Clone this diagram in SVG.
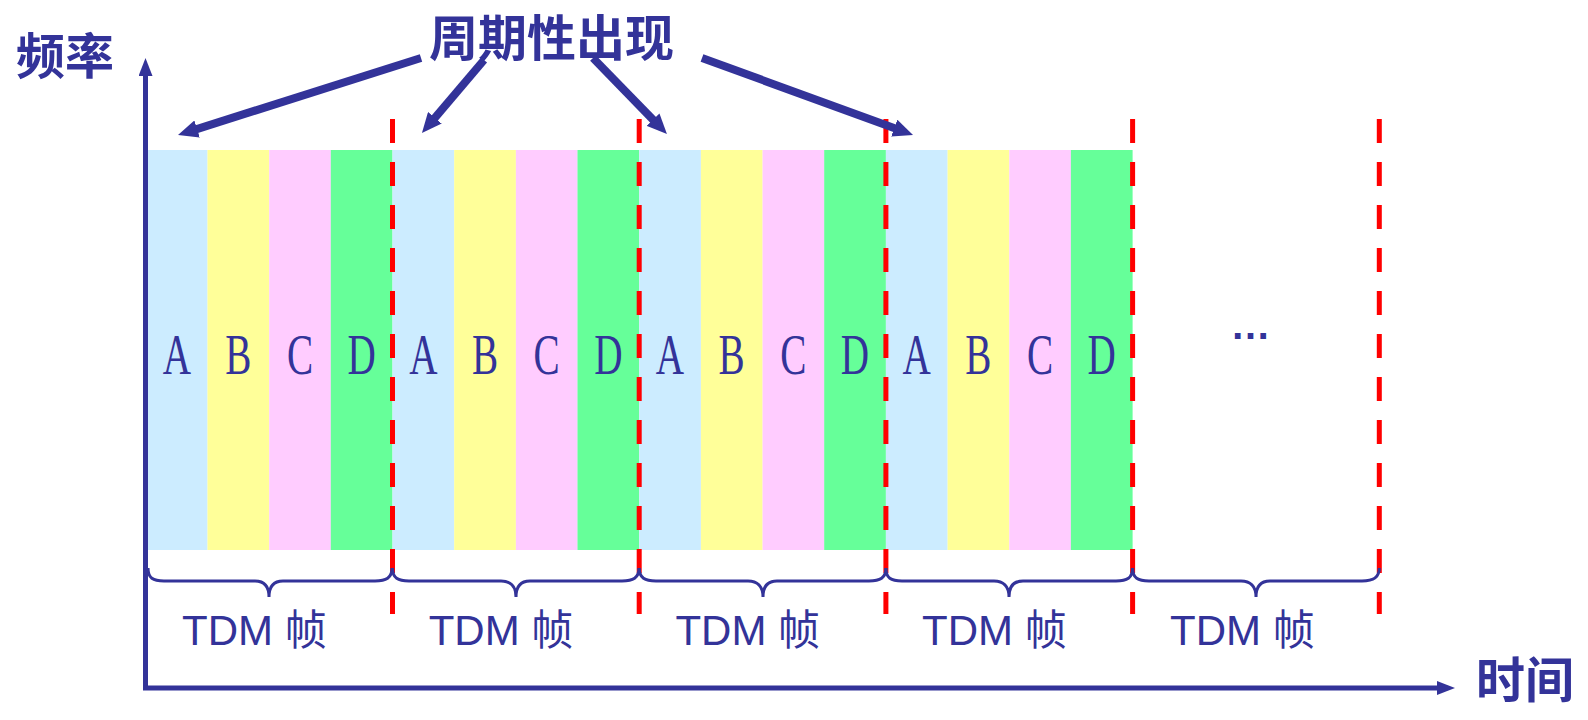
<svg xmlns="http://www.w3.org/2000/svg" width="1588" height="720" viewBox="0 0 1588 720">
<style>
.a{fill:#CCECFF}.b{fill:#FFFF99}.c{fill:#FFCCFF}.d{fill:#66FF99}
.ltr{font-family:"Liberation Serif",serif;font-size:56px;fill:#333399;text-anchor:middle}
.cjk{font-family:"Noto Sans CJK SC",sans-serif;font-size:49px;font-weight:bold;fill:#333399}
.tdm{font-family:"Liberation Sans","Noto Sans CJK SC",sans-serif;font-size:42px;fill:#333399}
.red{stroke:#FF0000;stroke-width:5;stroke-dasharray:24 19;fill:none}
.brace{stroke:#333399;stroke-width:3;fill:none}
.axis{stroke:#333399;stroke-width:5;fill:none}
.arr{stroke:#333399;stroke-width:8;fill:none}
</style>
<defs>
<marker id="bigHead" markerUnits="userSpaceOnUse" viewBox="0 0 20 18" markerWidth="20" markerHeight="18" refX="2" refY="9" orient="auto"><path d="M0,0 L20,9 L0,18 z" fill="#333399"/></marker>
<marker id="axHead" markerUnits="userSpaceOnUse" viewBox="0 0 18 14" markerWidth="18" markerHeight="14" refX="2" refY="7" orient="auto"><path d="M0,0 L18,7 L0,14 z" fill="#333399"/></marker>
</defs>
<g id="band">
<rect class="a" x="145.8" y="150" width="61.7" height="400"/><rect class="b" x="207.5" y="150" width="61.7" height="400"/><rect class="c" x="269.2" y="150" width="61.7" height="400"/><rect class="d" x="330.8" y="150" width="61.7" height="400"/>
<rect class="a" x="392.5" y="150" width="61.7" height="400"/><rect class="b" x="454.2" y="150" width="61.7" height="400"/><rect class="c" x="515.9" y="150" width="61.7" height="400"/><rect class="d" x="577.5" y="150" width="61.7" height="400"/>
<rect class="a" x="639.2" y="150" width="61.7" height="400"/><rect class="b" x="700.9" y="150" width="61.7" height="400"/><rect class="c" x="762.6" y="150" width="61.7" height="400"/><rect class="d" x="824.2" y="150" width="61.7" height="400"/>
<rect class="a" x="885.9" y="150" width="61.7" height="400"/><rect class="b" x="947.6" y="150" width="61.7" height="400"/><rect class="c" x="1009.3" y="150" width="61.7" height="400"/><rect class="d" x="1070.9" y="150" width="61.7" height="400"/>
</g>
<g id="slot-labels">
<text class="ltr" transform="translate(177 374) scale(0.7 1)">A</text><text class="ltr" transform="translate(238.4 374) scale(0.7 1)">B</text><text class="ltr" transform="translate(300 374) scale(0.7 1)">C</text><text class="ltr" transform="translate(361.7 374) scale(0.7 1)">D</text>
<text class="ltr" transform="translate(423.4 374) scale(0.7 1)">A</text><text class="ltr" transform="translate(485 374) scale(0.7 1)">B</text><text class="ltr" transform="translate(546.7 374) scale(0.7 1)">C</text><text class="ltr" transform="translate(608.4 374) scale(0.7 1)">D</text>
<text class="ltr" transform="translate(670 374) scale(0.7 1)">A</text><text class="ltr" transform="translate(731.7 374) scale(0.7 1)">B</text><text class="ltr" transform="translate(793.4 374) scale(0.7 1)">C</text><text class="ltr" transform="translate(855 374) scale(0.7 1)">D</text>
<text class="ltr" transform="translate(916.7 374) scale(0.7 1)">A</text><text class="ltr" transform="translate(978.4 374) scale(0.7 1)">B</text><text class="ltr" transform="translate(1040 374) scale(0.7 1)">C</text><text class="ltr" transform="translate(1101.7 374) scale(0.7 1)">D</text>
<text x="1250.5" y="339" text-anchor="middle" font-family="Liberation Sans, sans-serif" font-size="40" font-weight="bold" fill="#333399">…</text>
</g>
<g id="frame-dividers">
<line class="red" x1="392.5" y1="119" x2="392.5" y2="614"/>
<line class="red" x1="639.2" y1="119" x2="639.2" y2="614"/>
<line class="red" x1="885.9" y1="119" x2="885.9" y2="614"/>
<line class="red" x1="1132.6" y1="119" x2="1132.6" y2="614"/>
<line class="red" x1="1379.3" y1="119" x2="1379.3" y2="614"/>
</g>
<g id="braces">
<path class="brace" d="M148,568 C148,578 153,581 164,581 L255,581 C264,581 269,586 269,597 C269,586 274,581 283,581 L375,581 C386,581 392,578 392,568"/>
<path class="brace" d="M392.5,568 C392.5,578 398,581 409,581 L501,581 C510,581 516,586 516,597 C516,586 521,581 530,581 L622,581 C633,581 639,578 639,568"/>
<path class="brace" d="M639.2,568 C639.2,578 645,581 656,581 L748,581 C757,581 763,586 763,597 C763,586 768,581 777,581 L869,581 C880,581 886,578 886,568"/>
<path class="brace" d="M885.9,568 C885.9,578 891,581 902,581 L994,581 C1003,581 1009,586 1009,597 C1009,586 1014,581 1023,581 L1116,581 C1127,581 1132.6,578 1132.6,568"/>
<path class="brace" d="M1132.6,568 C1132.6,578 1138,581 1149,581 L1241,581 C1250,581 1256,586 1256,597 C1256,586 1261,581 1270,581 L1362,581 C1373,581 1379.3,578 1379.3,568"/>
</g>
<g id="frame-labels">
<text class="tdm" x="182" y="645">TDM 帧</text>
<text class="tdm" x="428.7" y="645">TDM 帧</text>
<text class="tdm" x="675.4" y="645">TDM 帧</text>
<text class="tdm" x="922.1" y="645">TDM 帧</text>
<text class="tdm" x="1170" y="645">TDM 帧</text>
</g>
<g id="axes">
<line class="axis" x1="145.5" y1="690" x2="145.5" y2="74" marker-end="url(#axHead)"/>
<line class="axis" x1="143" y1="688" x2="1439" y2="688" marker-end="url(#axHead)"/>
<text class="cjk" x="16" y="74" font-size="50">频率</text>
<text class="cjk" x="1476" y="698">时间</text>
</g>
<g id="title">
<text class="cjk" x="429" y="56" font-size="48">周期性出现</text>
</g>
<g id="connectors">
<line class="arr" x1="421" y1="58" x2="195.2" y2="129.6" marker-end="url(#bigHead)"/>
<line class="arr" x1="484" y1="60" x2="433.6" y2="119.3" marker-end="url(#bigHead)"/>
<line class="arr" x1="593" y1="58" x2="654.4" y2="121.1" marker-end="url(#bigHead)"/>
<line class="arr" x1="702" y1="58" x2="896.1" y2="128.8" marker-end="url(#bigHead)"/>
</g>
</svg>
